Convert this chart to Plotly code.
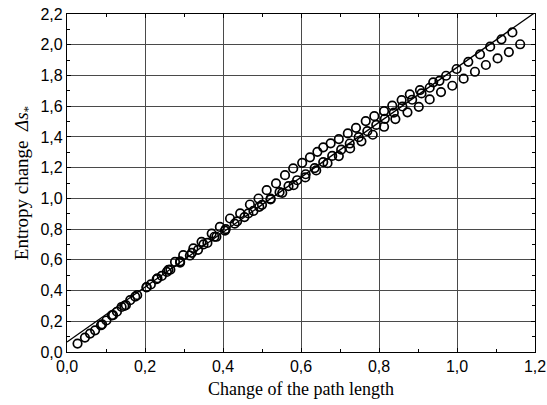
import numpy as np
import plotly.graph_objects as go

# Upper series (points above / on the fitted line)
U_x = [0.027, 0.059, 0.087, 0.115, 0.140, 0.162, 0.204, 0.230, 0.256, 0.277, 0.298, 0.324,
       0.345, 0.371, 0.392, 0.418, 0.444, 0.469, 0.491, 0.512, 0.536, 0.559, 0.580, 0.603,
       0.623, 0.642, 0.657, 0.676, 0.697, 0.720, 0.741, 0.766, 0.788, 0.813, 0.834, 0.858,
       0.879, 0.905, 0.939, 0.972, 0.999, 1.029, 1.059, 1.085, 1.114, 1.142]
U_y = [0.055, 0.120, 0.174, 0.239, 0.293, 0.337, 0.423, 0.474, 0.521, 0.586, 0.630, 0.674,
       0.717, 0.771, 0.814, 0.869, 0.902, 0.960, 0.999, 1.053, 1.097, 1.151, 1.195, 1.231,
       1.267, 1.303, 1.332, 1.358, 1.386, 1.423, 1.459, 1.503, 1.535, 1.568, 1.603, 1.640,
       1.677, 1.705, 1.755, 1.798, 1.842, 1.889, 1.937, 1.987, 2.035, 2.080]

# Middle series (points close to the fitted line)
M_x = [0.046, 0.072, 0.101, 0.128, 0.151, 0.180, 0.215, 0.243, 0.265, 0.290, 0.315, 0.336,
       0.360, 0.383, 0.405, 0.430, 0.455, 0.478, 0.500, 0.522, 0.545, 0.568, 0.590, 0.612,
       0.635, 0.657, 0.680, 0.703, 0.725, 0.748, 0.770, 0.793, 0.815, 0.838, 0.860, 0.885,
       0.909, 0.930, 0.955]
M_y = [0.094, 0.141, 0.205, 0.262, 0.305, 0.370, 0.440, 0.495, 0.536, 0.582, 0.628, 0.665,
       0.710, 0.750, 0.790, 0.835, 0.878, 0.918, 0.958, 0.998, 1.040, 1.080, 1.118, 1.157,
       1.197, 1.236, 1.276, 1.317, 1.357, 1.398, 1.437, 1.478, 1.518, 1.558, 1.598, 1.642,
       1.683, 1.720, 1.765]

# Lower series
L_x = [0.090, 0.118, 0.147, 0.175, 0.204, 0.232, 0.260, 0.290, 0.320, 0.350, 0.378, 0.407,
       0.436, 0.465, 0.493, 0.522, 0.552, 0.581, 0.611, 0.639, 0.668, 0.697, 0.726, 0.755,
       0.784, 0.813, 0.842, 0.873, 0.902, 0.930, 0.959, 0.988, 1.017, 1.046, 1.074, 1.104,
       1.133, 1.162]
L_y = [0.180, 0.240, 0.300, 0.360, 0.420, 0.480, 0.535, 0.590, 0.645, 0.700, 0.750, 0.800,
       0.850, 0.902, 0.945, 0.993, 1.036, 1.086, 1.136, 1.182, 1.229, 1.275, 1.325, 1.371,
       1.414, 1.466, 1.516, 1.560, 1.596, 1.644, 1.692, 1.733, 1.779, 1.824, 1.868, 1.911,
       1.952, 2.003]

# Fitted straight line parameters
fit_intercept = 0.065
fit_slope = 1.787
fit_x = [0.0, 1.2]

x_ticks = [0.0, 0.2, 0.4, 0.6, 0.8, 1.0, 1.2]
y_ticks = [0.0, 0.2, 0.4, 0.6, 0.8, 1.0, 1.2, 1.4, 1.6, 1.8, 2.0, 2.2]
x_minor = [0.1, 0.3, 0.5, 0.7, 0.9, 1.1]
y_minor = [0.1, 0.3, 0.5, 0.7, 0.9, 1.1, 1.3, 1.5, 1.7, 1.9, 2.1]

fig = go.Figure()

marker = dict(symbol="circle-open", size=8.5, color="black", line=dict(width=1.7, color="black"))
for xs, ys in [(U_x, U_y), (M_x, M_y), (L_x, L_y)]:
    fig.add_trace(go.Scatter(x=xs, y=ys, mode="markers", marker=marker, showlegend=False))

fx = np.array(fit_x)
fig.add_trace(go.Scatter(x=fx, y=fit_intercept + fit_slope * fx, mode="lines",
                         line=dict(color="black", width=1.3), showlegend=False))

axis_common = dict(
    automargin=False,
    showline=True, linecolor="black", linewidth=1.2, mirror="allticks",
    showgrid=True, gridcolor="#4a4a4a", gridwidth=1,
    ticks="inside", ticklen=4, tickcolor="black", tickwidth=1,
    tickfont=dict(family="Liberation Sans, Arial, sans-serif", size=16, color="black"),
    tickformat=".1f", zeroline=False,
)

fig.update_layout(
    width=547, height=405,
    margin=dict(l=67, r=12, t=14, b=53),
    plot_bgcolor="white", paper_bgcolor="white",
    separators=", ",
    xaxis=dict(range=[0, 1.2], tickvals=x_ticks, **axis_common,
               minor=dict(ticks="inside", ticklen=3, tickcolor="black", showgrid=False, tickvals=x_minor),
               title=dict(text="Change of the path length", standoff=8,
                          font=dict(family="Liberation Serif, Times New Roman, serif", size=18, color="black"))),
    yaxis=dict(range=[0, 2.2], tickvals=y_ticks, **axis_common,
               minor=dict(ticks="inside", ticklen=3, tickcolor="black", showgrid=False, tickvals=y_minor),
               title=dict(text="Entropy change  <i>Δs</i><sub>*</sub>", standoff=6,
                          font=dict(family="Liberation Serif, Times New Roman, serif", size=19, color="black"))),
)

fig.write_html("out.html")
